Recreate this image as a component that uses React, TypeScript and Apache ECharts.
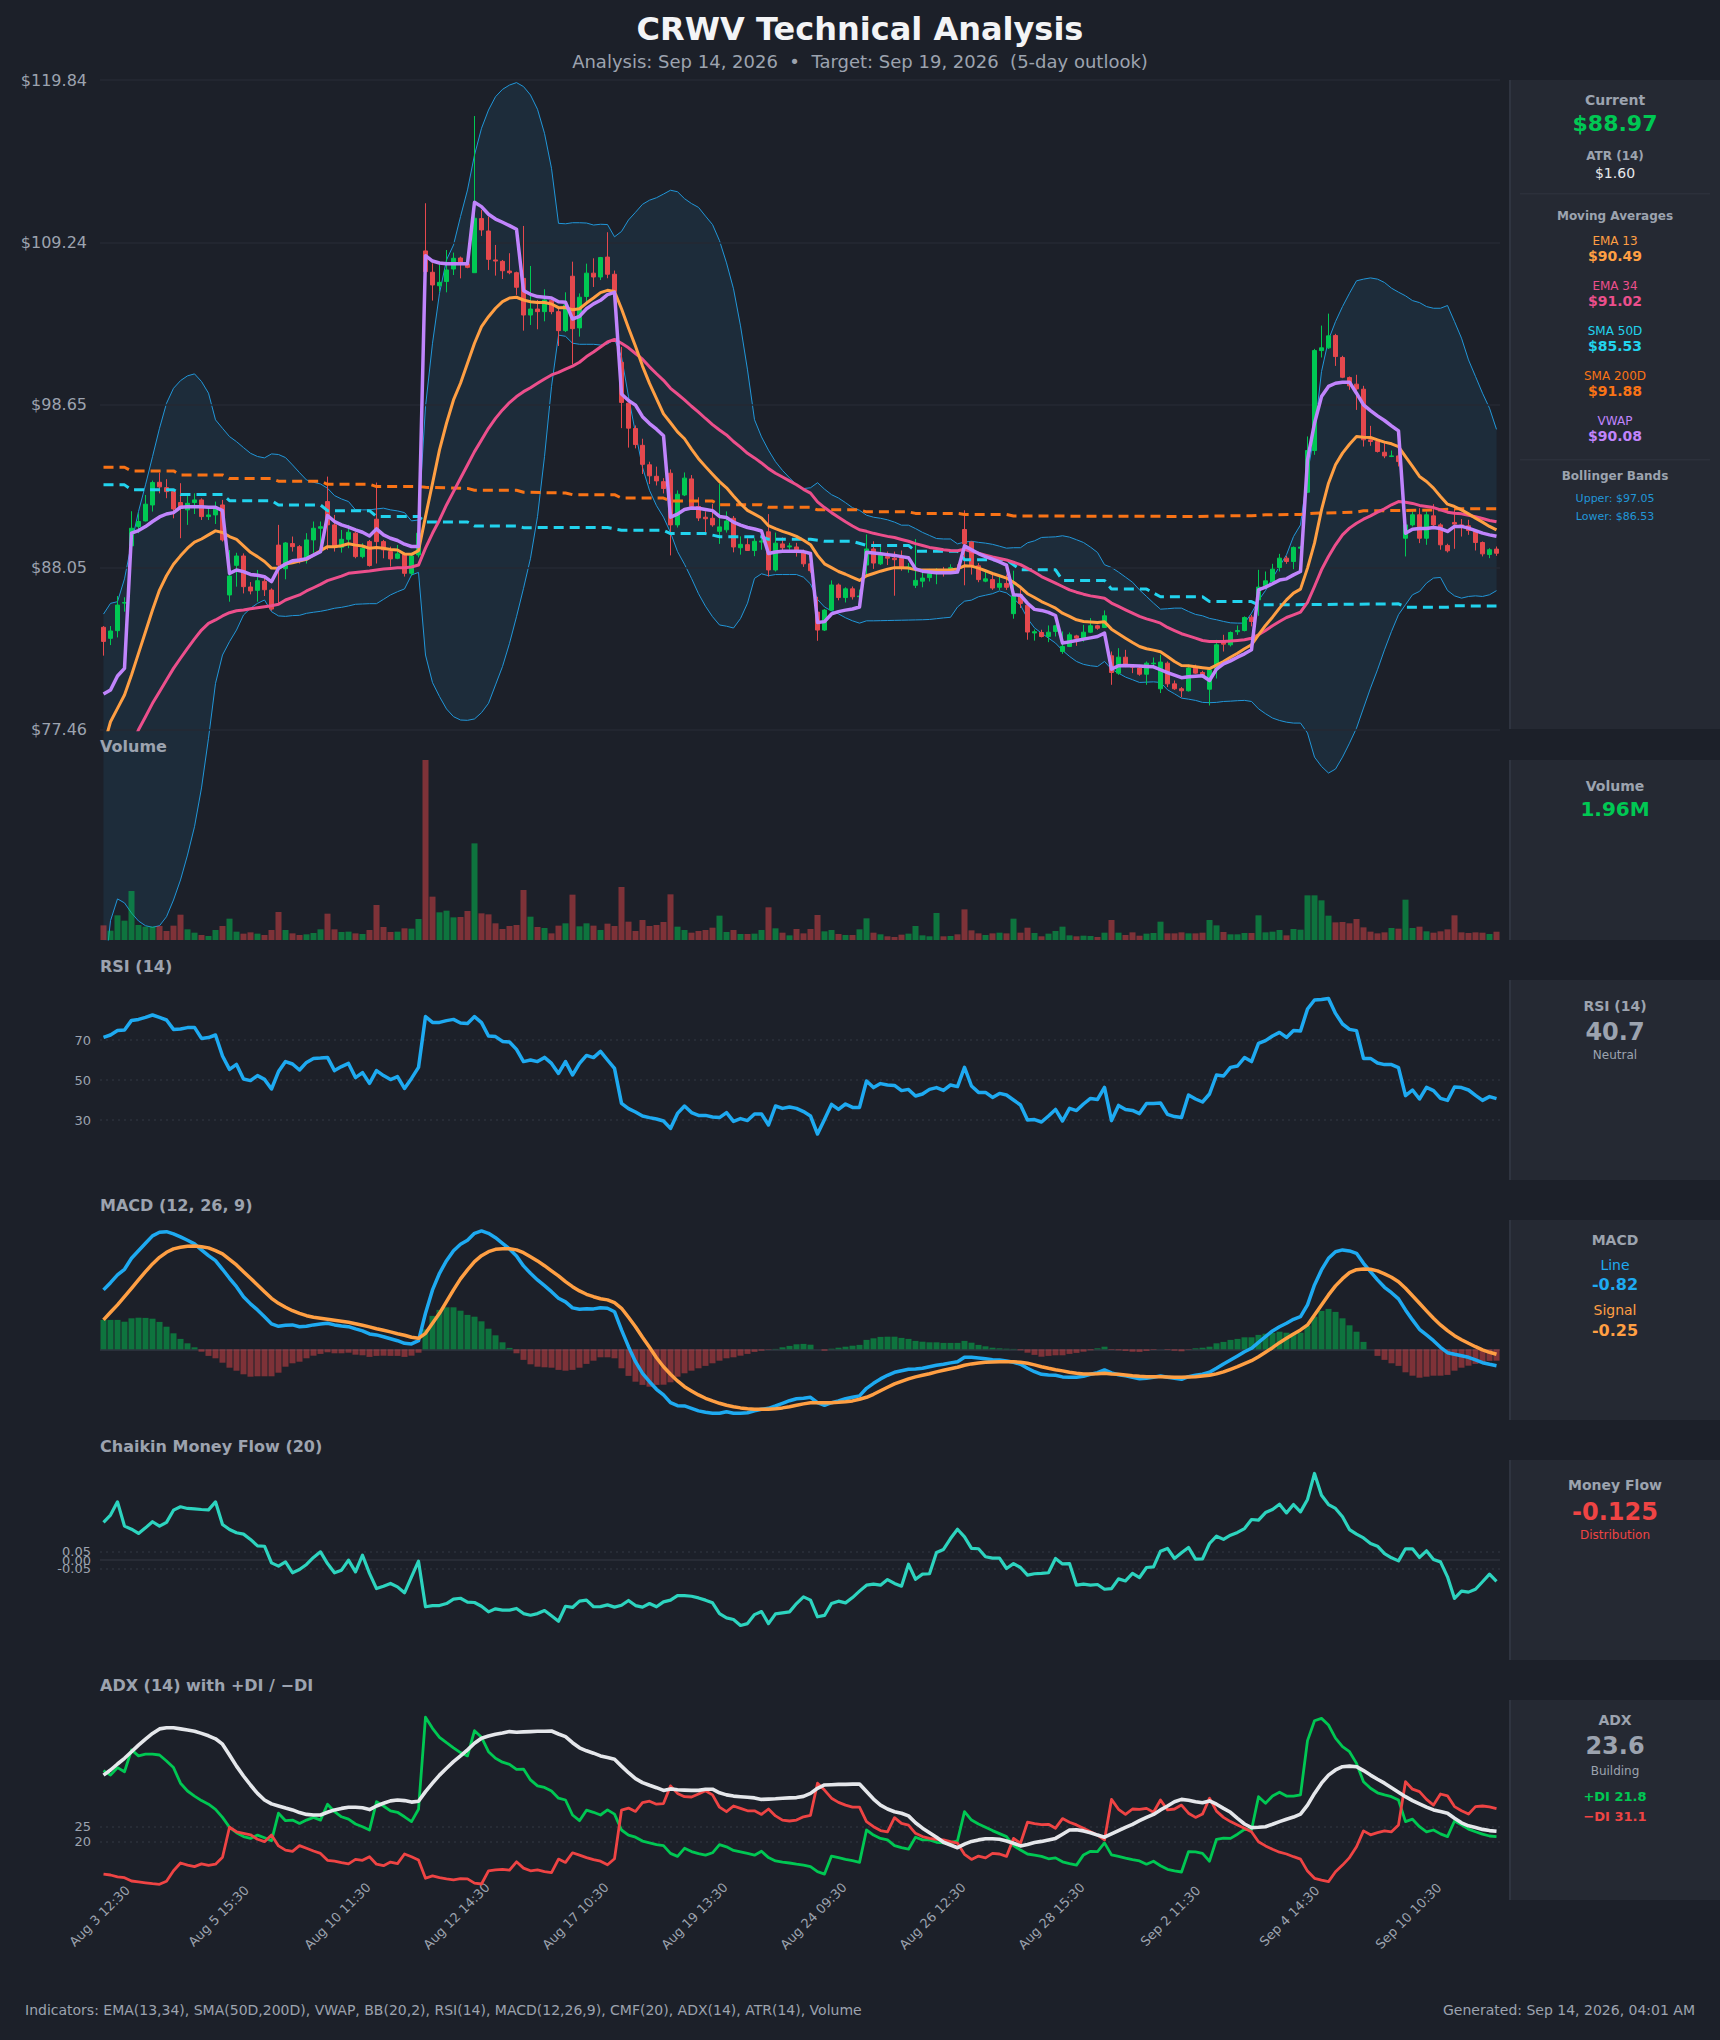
import { useEffect, useRef } from 'react';
import * as echarts from 'echarts';

const BG = '#1c2029';
const PANEL = '#252933';
const BORDER = '#2f3440';
const GREY = '#9ca3af';
const GREEN = '#00c853';
const RED = '#e5484d';
const BLUE = '#1eaaf1';
const ORANGE = '#ff9f43';
const PINK = '#ec4f8c';
const CYAN = '#22d3ee';
const DARK_ORANGE = '#f97316';
const PURPLE = '#c084fc';
const BAND = '#2196d8';
const FONT = '"DejaVu Sans"';

const tickLabels = ['Aug 3 12:30', 'Aug 5 15:30', 'Aug 10 11:30', 'Aug 12 14:30', 'Aug 17 10:30', 'Aug 19 13:30', 'Aug 24 09:30', 'Aug 26 12:30', 'Aug 28 15:30', 'Sep 2 11:30', 'Sep 4 14:30', 'Sep 10 10:30'];
const categories = Array.from({ length: 200 }, (_, i) => (i % 17 === 0 ? tickLabels[i / 17] : ''));

const priceTicks = [119.84, 109.24, 98.65, 88.05, 77.46];

const opens = [
  84.14, 83.42, 83.92, 85.72, 89.45, 90.71, 91.08, 92.12, 93.6, 93.25,
  92.99, 92.28, 91.8, 92.28, 92.45, 91.36, 91.47, 92.12, 86.25, 88.18,
  88.79, 86.77, 86.55, 87.14, 86.57, 89.5, 87.96, 89.6, 89.4, 88.65,
  89.84, 90.6, 92.34, 90.82, 89.36, 89.88, 90.28, 88.75, 89.73, 91.19,
  89.73, 89.08, 88.64, 88.93, 87.66, 88.86, 108.69, 107.3, 106.42, 106.7,
  107.51, 108.23, 107.84, 107.27, 110.8, 109.99, 108.1, 108.01, 107.38, 107.27,
  106.9, 104.51, 104.9, 104.73, 105.45, 104.73, 103.49, 107.04, 103.67, 105.72,
  107.24, 106.99, 108.29, 107.17, 101.43, 98.76, 97.11, 96.01, 94.74, 93.99,
  93.64, 94.19, 90.82, 92.77, 93.82, 92.02, 91.32, 91.25, 90.4, 90.5,
  91.25, 89.33, 89.53, 89.15, 89.7, 90.37, 87.88, 89.58, 89.38, 89.38,
  89.08, 88.28, 85.13, 83.96, 85.26, 86.9, 86.08, 86.65, 86.13, 88.2,
  89.25, 88.28, 88.75, 88.65, 88.63, 88.03, 86.88, 87.15, 87.38, 87.75,
  87.83, 87.83, 87.95, 90.52, 89.7, 88.15, 87.15, 87.25, 86.75, 87,
  85.03, 86.25, 85.58, 83.77, 83.8, 83.54, 83.87, 82.56, 82.89, 83.58,
  83.43, 83.82, 84.24, 84.13, 82.28, 81.15, 82.19, 81.63, 81.48, 81.08,
  81.76, 80.13, 81.8, 80.45, 80.13, 80, 81.48, 81.19, 80.1, 81.37,
  83.15, 83, 83.85, 83.93, 84.8, 85.93, 86.85, 87.13, 88.04, 88.65,
  88.43, 89.3, 92.95, 95.67, 102.19, 102.37, 103.17, 101.74, 100.43, 100,
  99.67, 96.37, 96.26, 95.56, 95.28, 95.32, 89.95, 90.82, 91.48, 89.95,
  91.41, 90.82, 89.48, 90.98, 90.82, 90.76, 90.39, 89.67, 88.89, 89.24,
];

const closes = [
  83.22, 83.9, 85.59, 85.75, 90.6, 91.04, 92.17, 93.58, 93.3, 92.99,
  91.86, 91.9, 92.23, 92.45, 91.36, 91.47, 91.9, 89.84, 87.48, 88.79,
  86.79, 86.51, 87.18, 86.59, 85.33, 88.2, 89.64, 89.4, 88.6, 89.84,
  90.6, 90.7, 90.82, 89.4, 89.88, 90.34, 88.75, 89.3, 88.17, 89.73,
  89.19, 88.6, 88.93, 87.66, 88.79, 90.28, 107.34, 106.47, 106.64, 107.45,
  108.21, 107.88, 107.62, 110.82, 110.06, 108.14, 108.03, 107.4, 107.27, 106.32,
  104.51, 104.9, 104.73, 105.49, 104.73, 103.49, 105.17, 103.62, 105.67, 107.24,
  106.99, 108.26, 107.17, 106.04, 98.81, 97.13, 96.06, 94.77, 94.02, 93.69,
  93.19, 90.82, 92.82, 93.87, 92.02, 91.27, 91.22, 90.82, 90.69, 91.07,
  89.38, 89.55, 89.15, 89.75, 89.77, 87.88, 89.63, 89.33, 89.45, 89.2,
  88.28, 87.83, 83.96, 85.26, 86.9, 86.08, 86.65, 86.13, 86.18, 89.25,
  88.33, 88.83, 88.65, 88.55, 88.05, 88.08, 87.2, 87.35, 87.63, 87.83,
  87.7, 88.03, 87.85, 89.58, 88.15, 87.25, 87.3, 86.7, 87, 86.75,
  86.2, 85.7, 83.83, 83.85, 83.54, 83.82, 84.24, 82.89, 83.65, 83.43,
  83.82, 84.24, 84.08, 84.89, 81.19, 82.19, 81.58, 81.54, 81.08, 81.8,
  81.8, 81.87, 80.45, 80.13, 80, 81.48, 81.15, 80.98, 81.37, 83,
  83.04, 83.8, 83.93, 84.78, 84.52, 86.76, 87.17, 87.93, 88.65, 88.43,
  89.35, 89.37, 95.67, 102.19, 102.37, 103.15, 101.8, 100.45, 99.89, 99.69,
  96.37, 96.26, 95.61, 95.32, 95.32, 94.95, 90.82, 91.48, 89.95, 91.48,
  90.82, 89.52, 89.13, 90.87, 90.76, 90.45, 89.67, 88.93, 89.2, 88.97,
];

const highs = [
  84.22, 84.22, 86.18, 86.1, 91.71, 91.58, 92.77, 93.71, 94.23, 93.8,
  93.1, 93.54, 92.88, 92.88, 92.55, 92.02, 92.34, 92.45, 89.18, 89,
  88.96, 87.09, 87.88, 87.4, 86.68, 90.82, 89.7, 90.06, 89.5, 90.28,
  91.04, 91.04, 93.97, 91.47, 90.49, 90.82, 90.38, 89.62, 89.84, 93.58,
  89.84, 89.4, 89.51, 89.01, 89, 90.4, 111.8, 107.88, 107.88, 108.75,
  108.58, 108.32, 107.88, 117.49, 111.36, 110.93, 109.08, 108.1, 108.54, 107.34,
  110.32, 107.71, 105.49, 106.19, 105.6, 104.95, 105.99, 107.99, 105.92, 107.86,
  108.21, 108.3, 109.91, 107.41, 102.43, 98.81, 97.31, 96.44, 94.94, 94.62,
  93.87, 94.44, 93.07, 94.24, 94.07, 92.62, 91.7, 92.2, 93.49, 91.7,
  91.4, 90.07, 89.95, 89.95, 90.45, 91.52, 90.32, 90, 89.65, 89.65,
  89.2, 88.4, 86.13, 85.33, 87.2, 87, 86.75, 86.8, 86.6, 90.2,
  89.75, 89.5, 89.08, 89.08, 89.15, 88.33, 89.9, 87.7, 87.95, 88,
  88.08, 88.25, 88.25, 91.77, 89.75, 88.33, 87.75, 87.58, 87.45, 87.58,
  87.83, 86.75, 85.83, 84, 83.98, 84.26, 84.3, 83.87, 83.8, 83.65,
  84.3, 84.74, 84.3, 85.24, 82.56, 82.78, 82.67, 81.69, 81.69, 81.91,
  82.17, 82.35, 81.91, 80.67, 80.24, 81.7, 81.7, 81.3, 81.48, 83.32,
  83.65, 83.87, 84.26, 84.85, 84.95, 87.89, 87.78, 88.28, 88.93, 88.8,
  89.41, 89.45, 96.59, 102.3, 103.82, 104.6, 103.28, 101.85, 100.5, 100.61,
  99.89, 97.28, 96.41, 96.15, 95.67, 95.72, 90.93, 91.7, 91.91, 91.7,
  92.17, 90.93, 89.59, 91.91, 91.2, 91.15, 90.5, 89.74, 89.3, 89.41,
];

const lows = [
  82.29, 82.98, 83.48, 85.16, 89.45, 90.28, 91.04, 91.69, 92.88, 92.56,
  91.25, 89.95, 90.82, 91.53, 91.14, 91.14, 90.88, 89.73, 85.81, 86.79,
  86.35, 86.29, 85.81, 86.18, 85.22, 85.7, 87.27, 89.08, 88.3, 88.3,
  89, 89.2, 89.19, 89.08, 89.01, 89.3, 88.64, 88.64, 88.1, 88.3,
  88.64, 88.1, 88.58, 87.45, 87.5, 88.7, 106.8, 105.45, 106.04, 105.99,
  107.12, 106.9, 107.56, 107.27, 109.67, 107.45, 107.08, 106.86, 107.17, 105.82,
  103.49, 103.86, 103.58, 104.1, 104.56, 102.49, 103.4, 101.3, 103.1, 105.42,
  106.34, 106.79, 106.91, 105.9, 97.13, 95.86, 95.81, 94.14, 93.49, 93.39,
  92.87, 88.83, 90.65, 92.7, 91.95, 91.07, 90.2, 90.7, 89.58, 90.32,
  89.03, 88.88, 89.15, 88.78, 89.2, 87.46, 87.78, 89.15, 89.2, 88.75,
  88.08, 87.7, 83.26, 83.9, 85.2, 85.9, 85.76, 85.95, 86.08, 87.58,
  87.95, 88.2, 88.2, 86.2, 87.83, 87.7, 86.7, 86.75, 87.13, 86.95,
  87.45, 87.7, 87.7, 86.88, 87.58, 87.08, 87.08, 86.58, 86.58, 86.58,
  84.7, 85.4, 83.33, 83.27, 83.48, 83.17, 83.54, 82.41, 82.85, 82.93,
  83.2, 83.76, 83.98, 84.09, 80.39, 81.04, 81.54, 81.15, 80.98, 80.39,
  81.63, 79.85, 80.24, 80.06, 79.58, 79.95, 81.1, 80.83, 79.04, 80.8,
  82.56, 82.89, 83.65, 83.87, 84.2, 84.89, 86.69, 87.02, 87.78, 88.28,
  87.93, 89.2, 92.9, 95.39, 101.74, 102.3, 101.19, 100.39, 99.63, 98.32,
  95.93, 95.98, 95.54, 95.17, 95.24, 94.63, 88.76, 90.72, 89.63, 89.52,
  90.72, 89.2, 89.02, 89.26, 90.06, 90.17, 89.15, 88.76, 88.65, 88.8,
];

const bbUpper = [
  85, 85.7, 85.81, 87.3, 89.62, 91.69, 93.43, 95.27, 97.12, 98.75,
  99.73, 100.23, 100.54, 100.67, 100.17, 99.41, 97.67, 97.12, 96.58, 96.25,
  95.86, 95.49, 95.28, 95.19, 95.45, 95.41, 95.21, 94.73, 94.23, 93.75,
  93.6, 93.49, 93.21, 92.73, 92.51, 92.34, 91.8, 91.8, 91.8, 91.86,
  91.91, 91.8, 91.73, 91.62, 91.08, 91.14, 98.54, 102.67, 105.93, 108.1,
  109.08, 110.93, 112.67, 114.95, 116.69, 117.88, 118.75, 119.23, 119.51, 119.67,
  119.41, 118.86, 117.93, 116.36, 114.08, 110.49, 110.46, 110.53, 110.53, 110.51,
  110.38, 110.43, 110.41, 109.61, 109.96, 110.71, 111.21, 111.73, 112, 112.16,
  112.4, 112.65, 112.55, 112.1, 111.78, 111.53, 110.96, 110.41, 109.36, 107.91,
  106.22, 103.8, 100.93, 97.68, 96.56, 95.69, 94.94, 94.37, 93.89, 93.44,
  93.19, 93.24, 93.57, 93.15, 92.79, 92.57, 92.27, 91.94, 91.77, 91.45,
  91.32, 91.25, 91.15, 91, 90.8, 90.8, 90.58, 90.33, 90.13, 89.93,
  89.9, 89.9, 89.58, 89.7, 89.75, 89.68, 89.63, 89.55, 89.43, 89.3,
  89.33, 89.33, 89.65, 89.78, 90, 90.02, 90.04, 90.11, 90.02, 89.85,
  89.67, 89.37, 89.02, 88.22, 88.04, 87.74, 87.41, 87.08, 86.58, 86.15,
  85.72, 85.32, 85.35, 85.39, 85.39, 85.17, 84.98, 84.89, 84.72, 84.63,
  84.52, 84.43, 84.41, 84.41, 85.06, 85.89, 86.54, 87.35, 88.11, 88.87,
  90.06, 90.82, 94.19, 96.8, 100.82, 102.89, 104.08, 105.06, 105.93, 106.74,
  106.85, 106.93, 106.85, 106.63, 106.26, 106, 105.76, 105.45, 105.32, 105.06,
  104.95, 104.95, 105.13, 104.08, 103, 101.58, 100.5, 99.41, 98.43, 97.05,
];

const bbLower = [
  60.8, 65, 66.42, 66.16, 65.5, 64.98, 64.67, 64.57, 64.67, 65.26,
  66.35, 67.66, 69.28, 71.13, 73.66, 76.9, 80.48, 82.33, 83.2, 83.96,
  84.94, 85.38, 85.7, 85.92, 85.16, 84.88, 84.85, 84.9, 84.92, 85.05,
  85.12, 85.18, 85.27, 85.38, 85.44, 85.53, 85.64, 85.66, 85.68, 85.68,
  85.96, 86.25, 86.46, 86.64, 87.55, 87.72, 82.33, 80.53, 79.62, 78.81,
  78.31, 78.09, 78.07, 78.16, 78.57, 79.18, 80.38, 81.58, 83.09, 84.83,
  86.68, 88.64, 91.36, 95.27, 99.84, 103.2, 103.12, 102.67, 102.6, 102.6,
  102.6, 102.55, 102.62, 102.92, 101.8, 99.18, 96.81, 94.57, 93.07, 92.07,
  91.32, 90.32, 89.08, 88.25, 87.33, 86.33, 85.51, 84.83, 84.29, 84.21,
  84.09, 84.71, 85.71, 87.33, 87.63, 87.5, 87.58, 87.58, 87.58, 87.58,
  87.41, 86.96, 85.96, 85.46, 85.21, 85.01, 84.76, 84.56, 84.41, 84.56,
  84.56, 84.57, 84.58, 84.59, 84.6, 84.61, 84.62, 84.63, 84.65, 84.7,
  84.75, 84.79, 85.46, 85.84, 85.91, 86.13, 86.23, 86.33, 86.51, 86.38,
  86.03, 85.58, 84.71, 84.1, 83.76, 83.43, 83.11, 82.63, 82.24, 81.91,
  81.72, 81.63, 81.58, 81.91, 81.41, 81.15, 80.89, 80.72, 80.54, 80.56,
  80.58, 80.54, 80.06, 79.8, 79.52, 79.45, 79.37, 79.24, 79.22, 79.24,
  79.3, 79.32, 79.35, 79.37, 79.3, 78.82, 78.5, 78.22, 78.06, 77.95,
  77.89, 77.89, 77.24, 75.67, 75.06, 74.63, 74.89, 75.67, 76.58, 77.56,
  78.87, 80.17, 81.37, 82.67, 83.87, 84.96, 85.61, 86.26, 86.48, 87.02,
  87.35, 87.39, 86.54, 86.19, 86.04, 86.15, 86.19, 86.15, 86.26, 86.53,
];

const ema13 = [
  76.35, 77.98, 78.85, 79.72, 81.03, 82.44, 83.85, 85.27, 86.57, 87.5,
  88.25, 88.8, 89.3, 89.69, 89.9, 90.17, 90.43, 90.32, 90.06, 89.88,
  89.45, 89.03, 88.75, 88.43, 88, 87.99, 88.27, 88.35, 88.46, 88.57,
  88.85, 89.14, 89.4, 89.4, 89.46, 89.59, 89.5, 89.44, 89.29, 89.35,
  89.29, 89.22, 89.18, 88.92, 88.9, 89.14, 91.36, 93.53, 95.71, 97.45,
  98.97, 100.06, 101.36, 102.67, 103.75, 104.4, 104.95, 105.38, 105.62, 105.67,
  105.49, 105.38, 105.32, 105.32, 105.23, 104.99, 105, 104.85, 104.92, 105.29,
  105.62, 105.97, 106.12, 106.04, 104.92, 103.67, 102.47, 101.18, 100.05, 99.06,
  98.06, 97.48, 96.89, 96.44, 95.76, 95.14, 94.62, 94.12, 93.64, 93.24,
  92.7, 92.2, 91.77, 91.52, 91.27, 90.77, 90.57, 90.4, 90.25, 90.07,
  89.82, 89.53, 88.83, 88.28, 88.03, 87.78, 87.6, 87.4, 87.2, 87.5,
  87.65, 87.8, 87.93, 88.03, 88.03, 88, 87.9, 87.88, 87.88, 87.88,
  87.88, 87.88, 87.95, 88.15, 88.13, 88, 87.83, 87.65, 87.5, 87.35,
  87.08, 86.75, 86.33, 86.08, 85.82, 85.61, 85.39, 85.06, 84.85, 84.63,
  84.52, 84.48, 84.45, 84.5, 84.02, 83.72, 83.43, 83.15, 82.89, 82.74,
  82.65, 82.54, 82.24, 81.91, 81.65, 81.63, 81.56, 81.5, 81.45, 81.67,
  81.91, 82.19, 82.45, 82.74, 83, 83.65, 84.26, 84.8, 85.39, 85.93,
  86.37, 86.63, 88, 89.63, 91.8, 93.54, 94.74, 95.5, 96.08, 96.58,
  96.54, 96.52, 96.37, 96.22, 96.11, 95.93, 95.28, 94.63, 93.98, 93.65,
  93.22, 92.67, 92.17, 92.02, 91.8, 91.54, 91.26, 91, 90.72, 90.49,
];

const ema34 = [
  70.92, 72.22, 73.64, 75.05, 76.35, 77.46, 78.31, 79.18, 79.94, 80.7,
  81.46, 82.12, 82.77, 83.38, 83.96, 84.4, 84.62, 84.88, 85.09, 85.22,
  85.27, 85.35, 85.42, 85.48, 85.55, 85.64, 85.92, 86.09, 86.25, 86.51,
  86.72, 86.94, 87.18, 87.33, 87.48, 87.66, 87.72, 87.77, 87.81, 87.88,
  87.94, 87.98, 88.03, 88.03, 88.07, 88.2, 89.3, 90.27, 91.14, 92.12,
  92.99, 93.86, 94.73, 95.6, 96.36, 97.12, 97.77, 98.32, 98.8, 99.19,
  99.51, 99.77, 100.06, 100.34, 100.6, 100.77, 100.98, 101.18, 101.43, 101.8,
  102.1, 102.42, 102.75, 102.92, 102.67, 102.37, 102, 101.63, 101.13, 100.68,
  100.25, 99.73, 99.36, 98.98, 98.56, 98.18, 97.76, 97.36, 97.01, 96.69,
  96.26, 95.89, 95.49, 95.19, 94.86, 94.49, 94.19, 93.94, 93.69, 93.44,
  93.14, 92.89, 92.32, 91.95, 91.62, 91.32, 91.02, 90.75, 90.5, 90.4,
  90.27, 90.17, 90.07, 90, 89.87, 89.75, 89.6, 89.48, 89.35, 89.28,
  89.2, 89.15, 89.13, 89.23, 89.08, 88.98, 88.85, 88.73, 88.63, 88.53,
  88.38, 88.23, 87.98, 87.73, 87.45, 87.24, 87.02, 86.8, 86.58, 86.43,
  86.3, 86.19, 86.11, 86.04, 85.72, 85.5, 85.28, 85.06, 84.85, 84.69,
  84.56, 84.41, 84.13, 83.93, 83.72, 83.58, 83.43, 83.28, 83.22, 83.22,
  83.22, 83.24, 83.28, 83.33, 83.43, 83.65, 83.93, 84.24, 84.52, 84.78,
  84.95, 85.13, 85.76, 86.8, 87.89, 88.76, 89.52, 90.17, 90.61, 90.93,
  91.19, 91.41, 91.65, 91.87, 92.13, 92.34, 92.3, 92.22, 92.09, 92.02,
  91.95, 91.8, 91.65, 91.58, 91.54, 91.45, 91.35, 91.24, 91.11, 91.02,
];

const vwap = [
  79.79, 80.05, 80.96, 81.46, 90.28, 90.45, 90.71, 91.04, 91.34, 91.53,
  91.62, 91.97, 92.01, 92.01, 92.01, 91.97, 91.97, 91.75, 87.66, 87.88,
  87.77, 87.59, 87.53, 87.44, 87.12, 87.99, 88.27, 88.48, 88.53, 88.62,
  88.85, 89.07, 91.43, 91.04, 90.82, 90.67, 90.49, 90.34, 90.1, 90.56,
  90.17, 89.95, 89.8, 89.56, 89.41, 89.41, 108.38, 108.03, 107.9, 107.86,
  107.86, 107.86, 107.86, 111.86, 111.58, 111.08, 110.77, 110.56, 110.34, 110.1,
  106.1, 105.86, 105.71, 105.67, 105.62, 105.38, 105.34, 104.25, 104.42, 104.92,
  105.24, 105.47, 105.84, 105.99, 99.36, 98.93, 98.63, 97.88, 97.43, 97.06,
  96.64, 91.32, 91.52, 91.82, 91.92, 91.9, 91.82, 91.75, 91.37, 91.3,
  91, 90.8, 90.65, 90.55, 90.42, 88.95, 89.05, 89.1, 89.1, 89.1,
  89.08, 88.95, 84.46, 84.51, 85.01, 85.16, 85.26, 85.33, 85.46, 89.03,
  88.98, 88.93, 88.88, 88.83, 88.75, 88.68, 87.95, 87.8, 87.75, 87.7,
  87.7, 87.7, 87.75, 89.45, 89.2, 88.95, 88.75, 88.58, 88.4, 88.2,
  86.26, 86.23, 85.71, 85.31, 85.24, 85.11, 84.91, 83.11, 83.19, 83.28,
  83.37, 83.45, 83.54, 83.76, 81.41, 81.63, 81.65, 81.63, 81.61, 81.58,
  81.56, 81.37, 81.19, 81.02, 80.85, 80.91, 80.95, 80.98, 80.67, 81.41,
  81.76, 81.95, 82.19, 82.41, 82.67, 86.58, 86.76, 86.98, 87.22, 87.3,
  87.56, 87.78, 95.06, 97.45, 99.19, 99.85, 100.06, 100.13, 100.13, 99.41,
  98.65, 98.28, 97.93, 97.63, 97.28, 96.95, 90.28, 90.54, 90.58, 90.58,
  90.65, 90.58, 90.39, 90.72, 90.72, 90.61, 90.45, 90.28, 90.17, 90.08,
];

// the two daily SMAs only change in steps, so only their corners are listed: [bar, price]
const sma200 = [
  [0, 94.58], [3, 94.58], [4, 94.34], [10, 94.34], [11, 94.08], [17, 94.08], [18, 93.84], [24, 93.84], [25, 93.67], [31, 93.67],
  [32, 93.47], [38, 93.47], [39, 93.32], [45, 93.32], [46, 93.27], [52, 93.2], [53, 93.08], [59, 93.08], [60, 92.95], [66, 92.9],
  [67, 92.79], [73, 92.79], [74, 92.57], [80, 92.57], [81, 92.37], [87, 92.37], [88, 92.14], [94, 92.14], [95, 91.97], [101, 91.97],
  [102, 91.8], [108, 91.8], [109, 91.67], [115, 91.67], [116, 91.57], [122, 91.57], [123, 91.5], [129, 91.5], [130, 91.4], [156, 91.37],
  [161, 91.41], [164, 91.41], [166, 91.48], [171, 91.5], [173, 91.58], [179, 91.65], [180, 91.74], [186, 91.76], [191, 91.8], [193, 91.87], [199, 91.88],
];

const sma50 = [
  [0, 93.43], [3, 93.43], [4, 93.12], [10, 93.12], [11, 92.8], [17, 92.8], [18, 92.4], [24, 92.4], [25, 92.12], [31, 92.12],
  [32, 91.75], [38, 91.75], [39, 91.36], [45, 91.36], [46, 91.01], [52, 91.01], [53, 90.75], [59, 90.75], [60, 90.64], [72, 90.65],
  [74, 90.47], [80, 90.47], [81, 90.25], [86, 90.25], [88, 90.05], [94, 90.05], [95, 89.88], [101, 89.88], [103, 89.75], [107, 89.75],
  [109, 89.48], [115, 89.48], [116, 89.1], [122, 89.1], [123, 88.55], [129, 88.55], [131, 87.89], [136, 87.89], [137, 87.2], [143, 87.2],
  [144, 86.63], [149, 86.63], [151, 86.13], [157, 86.13], [158, 85.82], [164, 85.82], [165, 85.6], [185, 85.67], [186, 85.45], [192, 85.45], [193, 85.54], [199, 85.53],
];

const volumes = [
  3.46, 2.2, 5.83, 4.57, 11.57, 3.54, 3.15, 3.15, 3.31, 2.13,
  3.39, 5.98, 2.52, 1.73, 1.18, 0.94, 2.36, 3.31, 5.04, 1.97,
  1.5, 1.81, 1.5, 1.18, 2.36, 6.61, 2.36, 1.57, 1.18, 1.34,
  1.65, 2.52, 6.22, 2.52, 1.89, 1.97, 1.57, 1.42, 2.36, 8.27,
  3.07, 1.89, 1.97, 2.76, 2.68, 4.96, 42.52, 10.24, 6.54, 6.93,
  5.35, 5.43, 6.85, 22.83, 6.3, 6.06, 3.94, 2.6, 3.31, 3.54,
  11.81, 5.51, 3.07, 2.83, 1.57, 3.39, 3.94, 10.71, 3.23, 3.94,
  3.39, 2.36, 3.86, 3.31, 12.52, 4.33, 2.13, 4.72, 3.31, 3.54,
  4.25, 10.79, 3.15, 2.36, 1.73, 2.13, 2.36, 2.91, 5.75, 1.89,
  2.36, 1.42, 1.42, 1.5, 2.36, 7.72, 2.76, 1.73, 1.1, 2.6,
  1.57, 2.6, 5.91, 2.05, 2.36, 1.42, 1.18, 1.18, 2.52, 5.12,
  1.73, 1.34, 0.87, 0.71, 1.26, 1.5, 3.31, 1.1, 0.87, 6.38,
  0.87, 0.94, 1.34, 7.24, 2.28, 1.57, 1.18, 1.57, 1.73, 1.57,
  5.04, 1.73, 2.91, 1.65, 0.87, 1.5, 2.13, 3.15, 1.1, 0.87,
  1.02, 0.94, 0.71, 1.73, 4.72, 1.73, 1.18, 1.81, 1.02, 1.5,
  1.65, 4.33, 1.57, 1.57, 1.81, 1.57, 1.57, 1.73, 4.72, 3.46,
  1.89, 1.34, 1.34, 1.65, 1.65, 5.83, 1.81, 1.97, 2.36, 1.1,
  2.6, 2.44, 10.55, 10.55, 9.37, 5.75, 4.17, 4.25, 3.94, 4.96,
  2.99, 1.97, 1.57, 1.81, 2.83, 2.68, 9.53, 2.83, 3.15, 2.05,
  1.73, 2.05, 2.52, 5.83, 1.81, 1.65, 1.81, 1.73, 1.42, 1.96,
];

const rsi = [
  71.3, 72.5, 74.7, 75, 79.8, 80.3, 81.3, 82.5, 81.3, 80,
  75.3, 75.5, 76.2, 76.3, 70.8, 71.2, 72.5, 62, 55.3, 57.8,
  50.5, 49.7, 52.2, 50.3, 45.5, 54.2, 59.2, 58, 55, 58.8,
  60.8, 61, 61.3, 54.7, 56.7, 58.3, 51.2, 53.7, 48.3, 54.7,
  52.2, 50.2, 51.7, 45.8, 50.8, 56.3, 81.7, 78.8, 78.8, 79.7,
  80.3, 78.5, 78.2, 81.7, 78.7, 72, 71.7, 69.3, 69, 65.3,
  59.2, 60, 59.2, 61.3, 58.3, 53.3, 59.2, 52.5, 58.3, 62.3,
  61.2, 64.3, 60, 55.8, 38.3, 35.7, 34, 32, 31.2, 30.5,
  29.5, 25.8, 33.3, 37, 33.7, 32.3, 32.3, 31.5, 31.2, 33.7,
  29.3, 30.7, 29.7, 33, 33, 27.5, 37, 35.8, 36.5, 35.8,
  34.2, 32, 23, 30.3, 37.8, 35.3, 38, 36.3, 36.3, 49.5,
  46.2, 48.2, 47.5, 47.3, 44.7, 45.3, 42, 43, 45.3, 46.2,
  44.8, 47.5, 46.7, 56.3, 47, 43.8, 43.8, 41.3, 43.3, 42.5,
  40, 37.5, 30, 30.2, 29, 32, 35.3, 29.5, 35.8, 34.7,
  38, 40.8, 40.3, 46.3, 29.7, 37.3, 35.3, 34.8, 33.2, 38.2,
  38.3, 38.5, 32.8, 31.7, 31.2, 42.5, 40.5, 39, 43, 52.5,
  52, 56.3, 57, 61.2, 59.2, 68.3, 69.7, 72, 73.8, 71.3,
  74.7, 74.5, 85.5, 90, 90.2, 90.7, 83.3, 78, 75.3, 74.7,
  60.8, 60.8, 58.5, 57.7, 57.7, 56.2, 42.2, 45, 40.5, 46.3,
  44.7, 40.8, 39.8, 46.5, 46.2, 45, 42.3, 39.8, 41.7, 40.7,
];

const macd = [
  2.97, 3.33, 3.72, 4, 4.55, 4.93, 5.3, 5.67, 5.85, 5.88,
  5.77, 5.62, 5.45, 5.27, 4.97, 4.68, 4.43, 4, 3.55, 3.13,
  2.63, 2.27, 1.97, 1.63, 1.27, 1.15, 1.2, 1.22, 1.13, 1.15,
  1.22, 1.27, 1.3, 1.22, 1.17, 1.13, 1.02, 0.92, 0.77, 0.72,
  0.63, 0.53, 0.43, 0.3, 0.27, 0.43, 1.8, 2.97, 3.8, 4.43,
  4.93, 5.25, 5.45, 5.8, 5.92, 5.8, 5.58, 5.3, 5.02, 4.67,
  4.17, 3.8, 3.47, 3.18, 2.88, 2.55, 2.37, 2.07, 2, 2.03,
  2.02, 2.08, 2.05, 1.88, 0.97, 0.13, -0.62, -1.2, -1.62, -2,
  -2.28, -2.67, -2.82, -2.83, -2.95, -3.08, -3.15, -3.2, -3.2, -3.12,
  -3.2, -3.2, -3.17, -3.07, -3, -2.95, -2.83, -2.7, -2.57, -2.47,
  -2.45, -2.4, -2.67, -2.8, -2.67, -2.58, -2.47, -2.4, -2.33, -1.95,
  -1.7, -1.48, -1.3, -1.15, -1.07, -1, -0.98, -0.95, -0.87, -0.8,
  -0.75, -0.68, -0.62, -0.4, -0.4, -0.43, -0.47, -0.52, -0.53, -0.58,
  -0.65, -0.75, -0.95, -1.12, -1.25, -1.28, -1.3, -1.38, -1.4, -1.4,
  -1.35, -1.25, -1.17, -1.03, -1.18, -1.27, -1.33, -1.4, -1.47, -1.45,
  -1.4, -1.33, -1.4, -1.45, -1.5, -1.37, -1.3, -1.25, -1.15, -0.95,
  -0.73, -0.53, -0.33, -0.12, 0.05, 0.35, 0.63, 0.92, 1.13, 1.3,
  1.5, 1.63, 2.22, 3.22, 3.97, 4.55, 4.88, 4.97, 4.92, 4.8,
  4.3, 3.88, 3.47, 3.1, 2.83, 2.52, 1.97, 1.47, 1, 0.72,
  0.43, 0.1, -0.17, -0.25, -0.32, -0.4, -0.53, -0.67, -0.75, -0.82,
];

const macdSignal = [
  1.47, 1.85, 2.22, 2.63, 3.05, 3.47, 3.88, 4.27, 4.6, 4.85,
  5.02, 5.1, 5.15, 5.17, 5.13, 5.07, 4.93, 4.77, 4.5, 4.22,
  3.88, 3.55, 3.22, 2.88, 2.55, 2.3, 2.1, 1.93, 1.8, 1.68,
  1.6, 1.55, 1.5, 1.45, 1.4, 1.35, 1.28, 1.2, 1.12, 1.03,
  0.95, 0.87, 0.78, 0.7, 0.6, 0.55, 0.8, 1.3, 1.8, 2.38,
  2.97, 3.52, 3.97, 4.38, 4.68, 4.88, 5, 5.03, 5.03, 4.97,
  4.83, 4.63, 4.42, 4.18, 3.92, 3.67, 3.38, 3.13, 2.92, 2.75,
  2.63, 2.53, 2.47, 2.33, 2.05, 1.6, 1.13, 0.6, 0.1, -0.42,
  -0.87, -1.25, -1.58, -1.87, -2.08, -2.28, -2.45, -2.58, -2.7, -2.8,
  -2.87, -2.93, -2.97, -3, -3, -3, -2.97, -2.93, -2.87, -2.8,
  -2.73, -2.67, -2.67, -2.67, -2.67, -2.65, -2.62, -2.58, -2.5, -2.4,
  -2.25, -2.07, -1.9, -1.73, -1.6, -1.48, -1.38, -1.3, -1.22, -1.13,
  -1.05, -0.97, -0.9, -0.8, -0.73, -0.68, -0.65, -0.63, -0.62, -0.62,
  -0.62, -0.65, -0.7, -0.78, -0.87, -0.95, -1.02, -1.08, -1.15, -1.2,
  -1.23, -1.23, -1.22, -1.2, -1.23, -1.25, -1.28, -1.32, -1.35, -1.37,
  -1.37, -1.37, -1.38, -1.4, -1.4, -1.38, -1.37, -1.33, -1.3, -1.23,
  -1.13, -1, -0.87, -0.72, -0.57, -0.37, -0.15, 0.08, 0.33, 0.55,
  0.77, 0.97, 1.22, 1.72, 2.22, 2.72, 3.17, 3.53, 3.83, 3.98,
  4.02, 4, 3.92, 3.77, 3.6, 3.38, 3.05, 2.68, 2.3, 1.92,
  1.55, 1.22, 0.93, 0.68, 0.48, 0.3, 0.13, -0.03, -0.15, -0.25,
];

const macdHist = [
  1.47, 1.47, 1.47, 1.38, 1.55, 1.58, 1.57, 1.53, 1.37, 1.13,
  0.8, 0.52, 0.3, 0.1, -0.12, -0.33, -0.45, -0.67, -0.92, -1.07,
  -1.25, -1.37, -1.35, -1.35, -1.35, -1.17, -0.87, -0.7, -0.62, -0.45,
  -0.32, -0.23, -0.15, -0.2, -0.2, -0.17, -0.27, -0.3, -0.38, -0.33,
  -0.32, -0.33, -0.33, -0.38, -0.32, -0.17, 1, 1.67, 1.97, 2.1,
  2.1, 1.93, 1.72, 1.63, 1.4, 1.03, 0.7, 0.35, 0.07, -0.2,
  -0.53, -0.75, -0.87, -0.9, -0.92, -1.03, -1.07, -1.03, -0.92, -0.73,
  -0.57, -0.4, -0.4, -0.45, -0.95, -1.33, -1.62, -1.78, -1.87, -1.78,
  -1.77, -1.65, -1.37, -1.2, -1.07, -0.95, -0.83, -0.7, -0.57, -0.45,
  -0.4, -0.32, -0.23, -0.13, -0.07, -0.02, 0.02, 0.1, 0.17, 0.25,
  0.27, 0.23, 0, -0.07, 0.03, 0.08, 0.13, 0.18, 0.22, 0.47,
  0.55, 0.62, 0.63, 0.63, 0.57, 0.52, 0.42, 0.38, 0.35, 0.35,
  0.32, 0.32, 0.32, 0.42, 0.33, 0.22, 0.15, 0.08, 0.05, 0.03,
  0.02, -0.05, -0.17, -0.28, -0.37, -0.33, -0.3, -0.3, -0.23, -0.18,
  -0.12, -0.05, 0.05, 0.13, -0.03, -0.05, -0.08, -0.12, -0.13, -0.08,
  -0.03, 0, -0.03, -0.07, -0.1, -0.02, 0.05, 0.08, 0.13, 0.3,
  0.37, 0.47, 0.52, 0.6, 0.6, 0.72, 0.78, 0.82, 0.88, 0.83,
  0.8, 0.83, 1.18, 1.63, 1.92, 2.02, 1.87, 1.55, 1.2, 0.88,
  0.37, 0, -0.33, -0.53, -0.7, -0.83, -1.15, -1.32, -1.42, -1.37,
  -1.32, -1.32, -1.28, -1.07, -0.92, -0.82, -0.73, -0.65, -0.58, -0.57,
];

const cmf = [
  0.221, 0.264, 0.342, 0.199, 0.181, 0.156, 0.189, 0.225, 0.199, 0.221,
  0.293, 0.313, 0.303, 0.301, 0.297, 0.295, 0.342, 0.209, 0.179, 0.16,
  0.152, 0.121, 0.083, 0.081, -0.017, -0.036, -0.011, -0.075, -0.056, -0.026,
  0.015, 0.048, -0.021, -0.075, -0.06, -0.001, -0.07, 0.028, -0.079, -0.168,
  -0.154, -0.138, -0.158, -0.193, -0.099, -0.007, -0.275, -0.268, -0.268, -0.256,
  -0.23, -0.225, -0.248, -0.25, -0.272, -0.305, -0.287, -0.295, -0.295, -0.285,
  -0.315, -0.325, -0.315, -0.297, -0.328, -0.36, -0.272, -0.279, -0.242, -0.236,
  -0.275, -0.274, -0.264, -0.277, -0.266, -0.238, -0.268, -0.277, -0.256, -0.275,
  -0.246, -0.236, -0.209, -0.209, -0.213, -0.223, -0.236, -0.252, -0.315, -0.34,
  -0.35, -0.385, -0.374, -0.321, -0.303, -0.374, -0.317, -0.311, -0.305, -0.256,
  -0.217, -0.236, -0.334, -0.326, -0.256, -0.242, -0.252, -0.221, -0.183, -0.148,
  -0.142, -0.148, -0.115, -0.138, -0.154, -0.025, -0.113, -0.083, -0.081, 0.044,
  0.062, 0.126, 0.181, 0.136, 0.068, 0.066, 0.019, 0.011, 0.011, -0.05,
  -0.021, -0.044, -0.089, -0.081, -0.079, -0.075, 0.009, -0.023, -0.021, -0.148,
  -0.142, -0.148, -0.144, -0.172, -0.168, -0.111, -0.123, -0.079, -0.103, -0.044,
  -0.04, 0.052, 0.068, 0.009, 0.042, 0.074, 0.005, 0.007, 0.097, 0.14,
  0.121, 0.146, 0.162, 0.185, 0.238, 0.234, 0.279, 0.297, 0.328, 0.277,
  0.326, 0.283, 0.356, 0.509, 0.381, 0.326, 0.303, 0.254, 0.179, 0.152,
  0.13, 0.097, 0.081, 0.038, 0.013, -0.005, 0.066, 0.066, 0.015, 0.054,
  0.003, -0.011, -0.099, -0.226, -0.183, -0.189, -0.172, -0.128, -0.083, -0.125,
];

const adx = [
  42.3, 44, 46, 47.9, 50.1, 52.3, 54.3, 56.2, 57.7, 58.1,
  58.1, 57.7, 57.3, 56.9, 56.2, 55.4, 54.4, 52.6, 49, 45.3,
  42, 39, 36.2, 34, 32.7, 32, 31.3, 30.7, 29.8, 29.2,
  29, 29, 29.9, 30.7, 31.2, 31.6, 31.6, 31.4, 30.8, 32,
  32.9, 33.7, 34, 33.8, 33.3, 33.6, 36.8, 39.6, 42.3, 44.6,
  46.8, 48.7, 50.7, 52.9, 54.6, 55.3, 55.9, 56.3, 56.8, 56.6,
  56.7, 56.8, 56.9, 56.9, 57, 56, 55.1, 53.1, 51.4, 50.4,
  49.6, 48.7, 48.2, 47.6, 45.3, 43.1, 41.1, 39.8, 38.9, 38.1,
  37.2, 37.7, 37.4, 37.3, 37.2, 37.2, 37.6, 37.6, 36.4, 35.7,
  35.3, 35.1, 34.9, 34.7, 34.2, 34.3, 34.4, 34.6, 34.7, 34.8,
  35.2, 36.2, 37.9, 39, 39.1, 39.2, 39.2, 39.3, 39.3, 36.8,
  34.3, 32.3, 31, 30.1, 29.6, 28.7, 26.4, 24.6, 23.1, 21.6,
  19.9, 19, 18.1, 19.3, 20.2, 20.7, 21.1, 21.1, 20.9, 20.3,
  19.6, 18.7, 19.2, 19.8, 20.2, 20.7, 21.2, 22.6, 24, 24.1,
  23.7, 23.1, 22.3, 21.6, 22.7, 23.8, 24.9, 25.9, 27.1, 28.2,
  29.2, 30.7, 32, 33.4, 34.2, 33.9, 33.4, 33.1, 33.7, 32.6,
  31.2, 29.9, 27.9, 26, 24.8, 24.9, 25.1, 25.9, 26.8, 27.6,
  28.3, 29.3, 32.3, 36.2, 39.6, 42.3, 44, 45.1, 45.3, 45.1,
  43.8, 42.3, 40.9, 39.6, 38.1, 36.6, 35.1, 33.8, 32.7, 31.6,
  30.7, 30.2, 29.6, 27.9, 26.4, 25.4, 24.8, 24.2, 23.8, 23.6,
];

const plusDi = [
  43.8, 42.3, 44.8, 43.4, 50.7, 48.7, 49.3, 49.3, 49, 47,
  44.8, 39.6, 37, 35.3, 33.8, 32.6, 30.9, 28.2, 24.9, 23.1,
  21.8, 21.2, 22.3, 21.4, 20.4, 29.6, 27.1, 27.3, 26.2, 27.3,
  28.2, 27.3, 32.6, 30.1, 28.4, 27.6, 26, 25.1, 24, 33.4,
  32, 30.4, 29.9, 28.4, 26.8, 30.9, 61.6, 57.9, 54.9, 53.1,
  51.4, 49.8, 48.7, 57.1, 54.9, 50.1, 47.9, 46.6, 45.9, 44.2,
  44.3, 40.7, 38.7, 38.2, 37, 34.6, 34, 29, 27.1, 30.6,
  29.9, 29, 30.7, 29.3, 24, 22.3, 21.6, 20.3, 19.7, 19.1,
  18.8, 16.2, 15.2, 17.9, 16.8, 16.1, 15.6, 16.4, 19.1, 18.4,
  17.2, 16.7, 16.2, 15.6, 16.9, 14.8, 13.7, 13.3, 13, 12.6,
  12.3, 11.8, 10.1, 9.3, 15.3, 14.8, 14.2, 13.8, 13.2, 24,
  22.3, 21.2, 20.7, 18.8, 18.1, 17.6, 21.6, 20.7, 20.7, 19.9,
  19.7, 19.8, 20.4, 30.1, 27.3, 26, 24.9, 23.8, 22.8, 21.8,
  18.8, 17.3, 16, 15.6, 15.2, 14.4, 14.7, 13.4, 12.8, 12.3,
  15.7, 16.9, 16.8, 19.7, 15.7, 15.2, 14.6, 14.1, 13.7, 12.6,
  13.6, 12.1, 10.9, 10.4, 10, 16.8, 16.7, 16.2, 13.6, 20.9,
  21.3, 21.2, 22.6, 24.2, 24, 35.1, 32.9, 35.3, 36.6, 35.3,
  35.3, 35.7, 53.8, 60.4, 61.2, 59, 54.6, 51.8, 50.1, 46.2,
  40.1, 37.9, 36.4, 35.7, 35.1, 34, 26.8, 27.6, 25.1, 23.4,
  24, 22.7, 21.8, 27, 25.7, 24.3, 23.4, 22.6, 22, 21.8,
];

const minusDi = [
  9.3, 9, 8.4, 8.1, 7, 6.7, 6.4, 6.1, 5.9, 6.9,
  10.4, 13, 12.3, 11.8, 12.7, 12.2, 12.6, 14.9, 24.9, 23.4,
  22.9, 22.4, 20.9, 20.1, 22.3, 18.7, 17.3, 16.9, 18.8, 17.9,
  17, 16.2, 13.9, 13.6, 13.1, 12.7, 14.2, 13.9, 15.1, 12.6,
  12.1, 13.3, 12.8, 16, 15.1, 14, 7.9, 8.7, 8.1, 7.7,
  7.4, 7.8, 7.7, 6.3, 6, 10.4, 10.7, 10.9, 10.6, 13.4,
  11.3, 10.4, 10.7, 10.1, 9.8, 14.3, 13.2, 16.4, 15.6, 14.8,
  14.1, 13.6, 12.4, 14.4, 30.6, 31.3, 30.2, 33.1, 33.6, 32.6,
  32.8, 38.7, 36.2, 35.1, 35, 36, 37.1, 35.7, 31.6, 30.1,
  32, 31.2, 30.4, 30.4, 29.2, 31, 28.7, 27.3, 27, 27.3,
  28.4, 28.9, 39.6, 37.3, 34.6, 33.2, 32.3, 31.6, 31.6, 26.8,
  25.1, 23.8, 23.4, 28.1, 26.2, 25.6, 22.9, 21.8, 21.2, 20.9,
  20.7, 20.1, 19.6, 15.9, 14.2, 15.3, 14.7, 16.2, 16, 15.2,
  21.2, 19.6, 26.6, 26.1, 25.8, 25.9, 24.6, 27.8, 26.6, 25.7,
  24.6, 23.4, 22.3, 20.7, 34.2, 30.9, 29.2, 31, 30.9, 31.2,
  29.9, 34, 30.7, 31, 32.3, 29.6, 28.2, 29.3, 34.6, 30.3,
  28.2, 26.8, 25.7, 24.6, 23.4, 20.1, 18.7, 17.6, 16.6, 16,
  15.1, 14.3, 10.3, 7.9, 7.3, 6.8, 10.1, 12.3, 14.8, 18.4,
  23.7, 22.4, 23.1, 23.7, 23.4, 25.7, 40.1, 37.6, 36.8, 34.2,
  32.3, 36, 35.4, 31.8, 30.4, 29.3, 31.8, 32, 31.7, 31.1,
];

// y, text, size, bold, colour for the cards on the right
const sideTexts: [number, string, number, boolean, string][] = [
  [100, 'Current', 14, true, GREY],
  [123, '$88.97', 22, true, GREEN],
  [156, 'ATR (14)', 12, true, GREY],
  [173, '$1.60', 14, false, '#e5e7eb'],
  [216, 'Moving Averages', 12, true, GREY],
  [241, 'EMA 13', 12, false, ORANGE],
  [256, '$90.49', 14, true, ORANGE],
  [286, 'EMA 34', 12, false, PINK],
  [301, '$91.02', 14, true, PINK],
  [331, 'SMA 50D', 12, false, CYAN],
  [346, '$85.53', 14, true, CYAN],
  [376, 'SMA 200D', 12, false, DARK_ORANGE],
  [391, '$91.88', 14, true, DARK_ORANGE],
  [421, 'VWAP', 12, false, PURPLE],
  [436, '$90.08', 14, true, PURPLE],
  [476, 'Bollinger Bands', 12, true, GREY],
  [498, 'Upper: $97.05', 11, false, BAND],
  [516, 'Lower: $86.53', 11, false, BAND],
  [786, 'Volume', 14, true, GREY],
  [809, '1.96M', 20, true, GREEN],
  [1006, 'RSI (14)', 14, true, GREY],
  [1032, '40.7', 24, true, GREY],
  [1055, 'Neutral', 12, false, GREY],
  [1240, 'MACD', 14, true, GREY],
  [1265, 'Line', 14, false, BLUE],
  [1284, '-0.82', 16, true, BLUE],
  [1310, 'Signal', 14, false, ORANGE],
  [1330, '-0.25', 16, true, ORANGE],
  [1485, 'Money Flow', 14, true, GREY],
  [1512, '-0.125', 24, true, '#ef4444'],
  [1535, 'Distribution', 12, false, '#ef4444'],
  [1720, 'ADX', 14, true, GREY],
  [1746, '23.6', 24, true, GREY],
  [1771, 'Building', 12, false, GREY],
  [1796, '+DI 21.8', 13, true, GREEN],
  [1816, '\u2212DI 31.1', 13, true, '#ef4444'],
];

const panelTitles: [number, string][] = [
  [746, 'Volume'],
  [966, 'RSI (14)'],
  [1205, 'MACD (12, 26, 9)'],
  [1446, 'Chaikin Money Flow (20)'],
  [1685, 'ADX (14) with +DI / \u2212DI'],
];

const cards: [number, number][] = [[80, 649], [760, 180], [980, 200], [1220, 200], [1460, 200], [1700, 200]];

const text = (x: number, y: number, value: string, size: number, bold: boolean, color: string, align = 'center') => ({
  type: 'text',
  x,
  y,
  silent: true,
  z: 10,
  style: { text: value, fill: color, fontFamily: FONT, fontSize: size, fontWeight: bold ? 'bold' : 'normal', align, verticalAlign: 'middle' },
});

const isUp = (i: number) => closes[i] >= opens[i];

const lineSeries = (name: string, xAxisIndex: number, data: any, color: string, width: number, extra: any = {}) => ({
  name,
  type: 'line',
  xAxisIndex,
  yAxisIndex: xAxisIndex,
  data,
  showSymbol: false,
  symbol: 'none',
  lineStyle: { color, width, join: 'round' },
  z: 4,
  ...extra,
});

const refLines = (values: number[], type: any = [2, 4], color = '#2b303b', width = 1.5) => ({
  silent: true,
  symbol: 'none',
  z: 2,
  label: { show: false },
  lineStyle: { color, width, type },
  data: values.map((yAxis) => ({ yAxis })),
});

const grids = [
  { left: 100, width: 1400, top: 80, height: 649.7 },
  { left: 100, width: 1400, top: 760, height: 180 },
  { left: 100, width: 1400, top: 980, height: 200 },
  { left: 100, width: 1400, top: 1220, height: 200 },
  { left: 100, width: 1400, top: 1460, height: 200 },
  { left: 100, width: 1400, top: 1700, height: 202 },
  // same price scale as the first grid, but reaching down over the volume panel: the bands are not cut at the price panel
  { left: 100, width: 1400, top: 80, height: 860 },
  // only carries the date labels, which sit a little left of their bars
  { left: 96, width: 1400, top: 1700, height: 202 },
  // only carries the 0.00 label, which the axis would otherwise drop as overlapping 0.05 and -0.05
  { left: 100, width: 1400, top: 1460, height: 200 },
];

const yAxes = [
  { min: 77.46, max: 119.84, values: priceTicks, fmt: (v: number) => `$${v.toFixed(2)}`, size: 16, margin: 13 },
  { min: 0, max: 42.52 },
  { min: 0, max: 100, values: [30, 50, 70], fmt: (v: number) => `${v}`, size: 13, margin: 9 },
  { min: -3.535, max: 6.465 },
  { min: -0.588, max: 0.588, values: [-0.05, 0.05], fmt: (v: number) => v.toFixed(2), size: 13, margin: 9 },
  { min: 0, max: 67.33, values: [20, 25], fmt: (v: number) => `${v}`, size: 13, margin: 9 },
  { min: 63.74, max: 119.84 },
  { min: 0, max: 1 },
  { min: -0.588, max: 0.588, values: [0], fmt: (v: number) => v.toFixed(2), size: 13, margin: 9 },
];

const buildOption = () => ({
  animation: false,
  backgroundColor: BG,
  grid: grids,
  xAxis: grids.map((_, gridIndex) => ({
    type: 'category',
    gridIndex,
    data: categories,
    axisLine: { show: false },
    axisTick: { show: false },
    splitLine: { show: false },
    axisLabel:
      gridIndex === 7
        ? { show: true, interval: 16, rotate: 45, color: GREY, fontFamily: FONT, fontSize: 13, align: 'center', verticalAlign: 'middle', margin: 14 }
        : { show: false },
  })),
  yAxis: yAxes.map((a, gridIndex) => ({
    type: 'value',
    gridIndex,
    min: a.min,
    max: a.max,
    axisLine: { show: false },
    axisTick: { show: false },
    splitLine: { show: false },
    axisLabel: a.values
      ? { show: true, customValues: a.values, formatter: a.fmt, hideOverlap: false, showMinLabel: true, showMaxLabel: true, color: GREY, fontFamily: FONT, fontSize: a.size, margin: a.margin }
      : { show: false },
  })),
  series: [
    lineSeries('BB lower', 6, bbLower, BAND, 1, { stack: 'bb', z: 1 }),
    lineSeries('BB upper', 6, bbUpper.map((u, i) => +(u - bbLower[i]).toFixed(2)), BAND, 1, {
      stack: 'bb',
      z: 1,
      areaStyle: { color: 'rgba(45,160,225,0.14)' },
    }),
    {
      name: 'Price',
      type: 'candlestick',
      xAxisIndex: 0,
      yAxisIndex: 0,
      barWidth: 4,
      z: 3,
      itemStyle: { color: GREEN, color0: RED, borderColor: GREEN, borderColor0: RED, borderWidth: 1 },
      data: opens.map((o, i) => [o, closes[i], lows[i], highs[i]]),
      markLine: refLines(priceTicks, 'solid', '#252933', 1.5),
    },
    lineSeries('SMA 200D', 0, sma200, DARK_ORANGE, 3, { lineStyle: { color: DARK_ORANGE, width: 3, type: [10, 6] } }),
    lineSeries('SMA 50D', 0, sma50, CYAN, 3, { lineStyle: { color: CYAN, width: 3, type: [10, 6] } }),
    lineSeries('EMA 34', 0, ema34, PINK, 3),
    lineSeries('EMA 13', 0, ema13, ORANGE, 3),
    lineSeries('VWAP', 0, vwap, PURPLE, 3.5),
    {
      name: 'Volume',
      type: 'bar',
      xAxisIndex: 1,
      yAxisIndex: 1,
      barWidth: 6,
      z: 3,
      data: volumes,
      itemStyle: { color: (p: any) => (isUp(p.dataIndex) ? 'rgba(0,200,83,0.5)' : 'rgba(224,68,71,0.5)') },
    },
    lineSeries('RSI', 2, rsi, BLUE, 3.5, { markLine: refLines([30, 50, 70]) }),
    {
      name: 'Histogram',
      type: 'bar',
      xAxisIndex: 3,
      yAxisIndex: 3,
      barWidth: 6,
      z: 3,
      data: macdHist,
      itemStyle: { color: (p: any) => (p.value >= 0 ? 'rgba(0,200,83,0.5)' : 'rgba(224,68,71,0.5)') },
      markLine: refLines([0], 'solid', '#2b303b', 2),
    },
    lineSeries('MACD', 3, macd, BLUE, 3.5),
    lineSeries('Signal', 3, macdSignal, ORANGE, 3.5),
    lineSeries('CMF', 4, cmf, '#2dd4bf', 3.2, { markLine: refLines([-0.05, 0.05]) }),
    lineSeries('CMF zero', 4, [], '#2dd4bf', 0, { markLine: refLines([0], 'solid', '#282c36', 2) }),
    lineSeries('+DI', 5, plusDi, GREEN, 2.8, { markLine: refLines([20, 25]) }),
    lineSeries('-DI', 5, minusDi, '#ef4444', 2.8),
    lineSeries('ADX', 5, adx, '#e5e7eb', 3.6),
  ],
  graphic: [
    ...cards.map(([y, height]) => ({ type: 'rect', silent: true, z: 0, shape: { x: 1509, y, width: 211, height }, style: { fill: PANEL } })),
    ...cards.map(([y, height]) => ({ type: 'rect', silent: true, z: 0, shape: { x: 1509, y, width: 2, height }, style: { fill: BORDER } })),
    { type: 'rect', silent: true, z: 0, shape: { x: 1520, y: 193, width: 190, height: 1.5 }, style: { fill: '#2c303b' } },
    { type: 'rect', silent: true, z: 0, shape: { x: 1520, y: 459, width: 190, height: 1.5 }, style: { fill: '#2c303b' } },
    text(860, 29, 'CRWV Technical Analysis', 32, true, '#f3f4f6'),
    text(860, 61, 'Analysis: Sep 14, 2026\u00a0\u00a0\u2022\u00a0\u00a0Target: Sep 19, 2026\u00a0\u00a0(5-day outlook)', 18, false, GREY),
    ...panelTitles.map(([y, value]) => text(100, y, value, 16, true, GREY, 'left')),
    ...sideTexts.map(([y, value, size, bold, color]) => text(1615, y, value, size, bold, color)),
    text(25, 2010, 'Indicators: EMA(13,34), SMA(50D,200D), VWAP, BB(20,2), RSI(14), MACD(12,26,9), CMF(20), ADX(14), ATR(14), Volume', 14, false, GREY, 'left'),
    text(1695, 2010, 'Generated: Sep 14, 2026, 04:01 AM', 14, false, GREY, 'right'),
  ],
});

export default function App() {
  const el = useRef<HTMLDivElement>(null);

  useEffect(() => {
    document.body.style.margin = '0';
    document.body.style.background = BG;
    if (!el.current) return;
    const chart = echarts.init(el.current, undefined, { renderer: 'svg' });
    chart.setOption(buildOption() as any);
    return () => chart.dispose();
  }, []);

  return <div ref={el} style={{ width: 1720, height: 2040 }} />;
}
